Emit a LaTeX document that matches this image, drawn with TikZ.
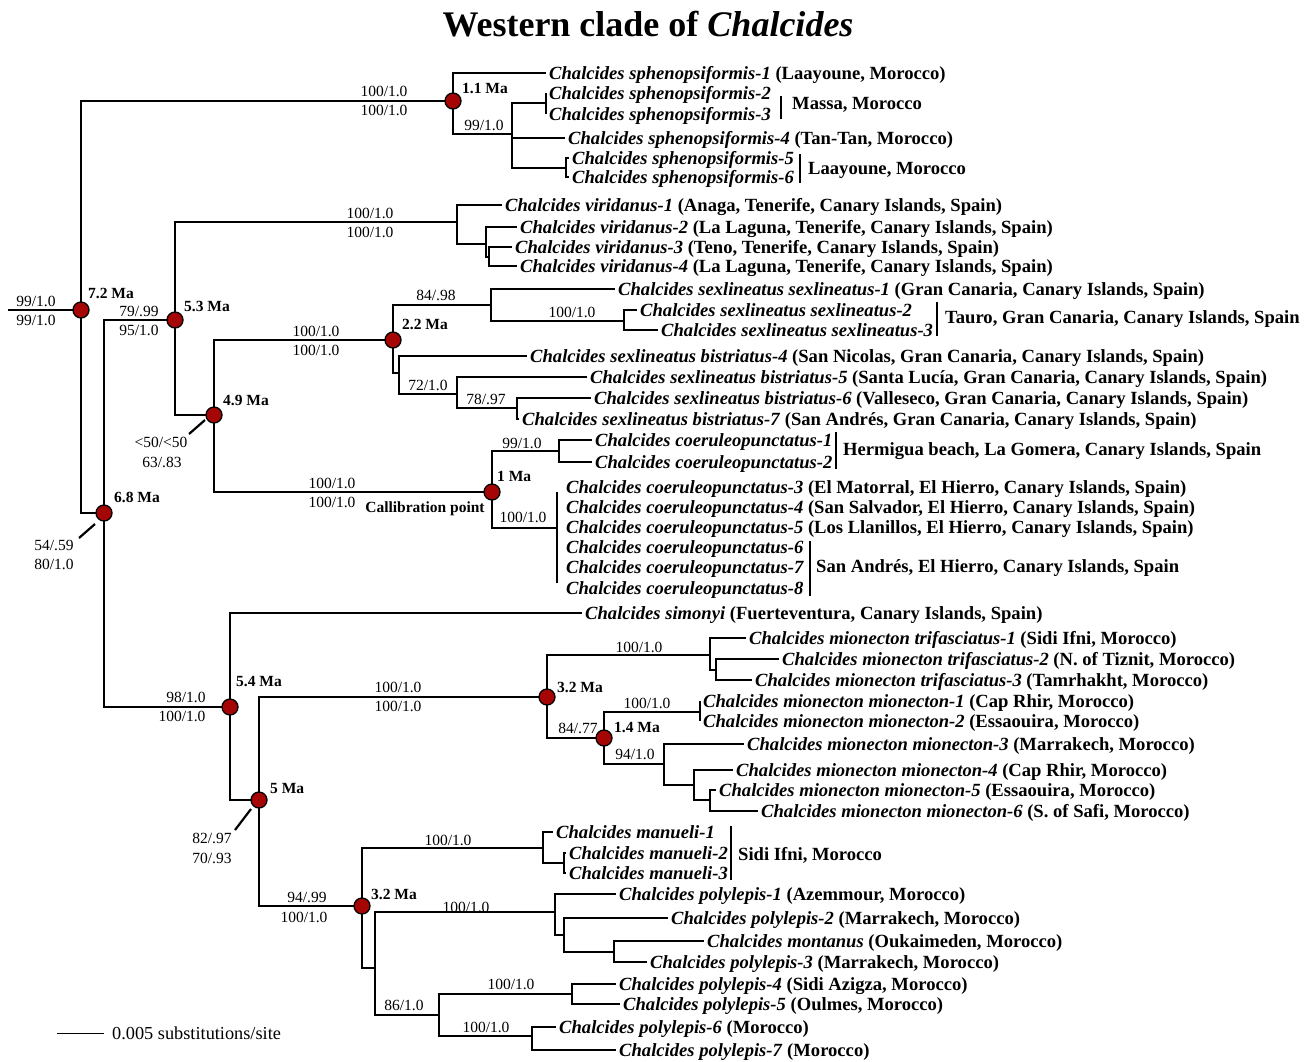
\documentclass[tikz,border=0pt]{standalone}
\usepackage{fontspec}
\setmainfont{Liberation Serif}
\definecolor{dotred}{RGB}{165,5,5}
\newcommand\spp[2]{\textit{#1}#2}
\begin{document}
\begin{tikzpicture}[x=1pt,y=-1pt,
  br/.style={line width=2.5pt},
  gbar/.style={line width=2pt},
  tickln/.style={line width=2.2pt},
  rdot/.style={circle,draw=black,fill=dotred,line width=1.3pt,minimum size=16pt,inner sep=0pt},
  leaf/.style={anchor=west,inner xsep=3pt,inner ysep=0pt,text height=13pt,text depth=0pt,font=\fontsize{18.6}{20}\selectfont\bfseries},
  grp/.style={anchor=west,inner sep=0pt,text height=13pt,text depth=0pt,font=\fontsize{18.6}{20}\selectfont\bfseries},
  bs/.style={inner sep=0pt,text height=10.5pt,text depth=0pt,font=\fontsize{15.5}{17}\selectfont},
  age/.style={anchor=west,inner sep=0pt,text height=10.5pt,text depth=0pt,font=\fontsize{15.5}{17}\selectfont\bfseries}]
\useasboundingbox[fill=white] (0,0) rectangle (1309,1061);
% title
\node[font=\fontsize{36}{40}\selectfont\bfseries] (title) at (648,24) {Western clade of \textit{Chalcides}};
% internal nodes
\coordinate (R0) at (8,310);
\coordinate (N72) at (81,310);
\coordinate (N11) at (453,101);
\coordinate (N99) at (512,134);
\coordinate (Nsp23) at (546,103);
\coordinate (Nsp56) at (566,168);
\coordinate (N68) at (104,513);
\coordinate (N53) at (175,320);
\coordinate (Nvir) at (457,222);
\coordinate (Nvir234) at (486,244);
\coordinate (Nvir34) at (489,257);
\coordinate (N49) at (214,415);
\coordinate (N22) at (393,340);
\coordinate (Nsexl) at (491,305);
\coordinate (Nsexl23) at (624,321);
\coordinate (Nbis) at (399,373);
\coordinate (N72b) at (457,394);
\coordinate (N78) at (517,408);
\coordinate (N1) at (492,492);
\coordinate (Ncoer12) at (559,451);
\coordinate (Ncoer3) at (557,528);
\coordinate (N54) at (230,707);
\coordinate (N5) at (259,800);
\coordinate (N32a) at (547,697);
\coordinate (Ntrif) at (710,655);
\coordinate (Ntrif23) at (716,670);
\coordinate (N14) at (604,738);
\coordinate (Nmion12) at (700,712);
\coordinate (Nmion36) at (664,764);
\coordinate (Nmion456) at (694,785);
\coordinate (Nmion56) at (710,800);
\coordinate (N32b) at (362,906);
\coordinate (Nman) at (543,848);
\coordinate (Nman23) at (564,863);
\coordinate (Npa) at (375,968);
\coordinate (Npoly1) at (555,912);
\coordinate (Npoly2) at (564,935);
\coordinate (Nmont) at (614,952);
\coordinate (N86) at (439,1015);
\coordinate (Npoly45) at (572,994);
\coordinate (Npoly67) at (532,1036);
% leaves
\node[leaf] (sp1) at (546,73) {\spp{Chalcides sphenopsiformis-1}{ (Laayoune, Morocco)}};
\node[leaf] (sp2) at (546,93) {\spp{Chalcides sphenopsiformis-2}{}};
\node[leaf] (sp3) at (546,114) {\spp{Chalcides sphenopsiformis-3}{}};
\node[leaf] (sp4) at (565,138) {\spp{Chalcides sphenopsiformis-4}{ (Tan-Tan, Morocco)}};
\node[leaf] (sp5) at (569,158) {\spp{Chalcides sphenopsiformis-5}{}};
\node[leaf] (sp6) at (569,177) {\spp{Chalcides sphenopsiformis-6}{}};
\node[leaf] (vi1) at (502,205) {\spp{Chalcides viridanus-1}{ (Anaga, Tenerife, Canary Islands, Spain)}};
\node[leaf] (vi2) at (517,227) {\spp{Chalcides viridanus-2}{ (La Laguna, Tenerife, Canary Islands, Spain)}};
\node[leaf] (vi3) at (512,247) {\spp{Chalcides viridanus-3}{ (Teno, Tenerife, Canary Islands, Spain)}};
\node[leaf] (vi4) at (517,266) {\spp{Chalcides viridanus-4}{ (La Laguna, Tenerife, Canary Islands, Spain)}};
\node[leaf] (sx1) at (615,289) {\spp{Chalcides sexlineatus sexlineatus-1}{ (Gran Canaria, Canary Islands, Spain)}};
\node[leaf] (sx2) at (637,310) {\spp{Chalcides sexlineatus sexlineatus-2}{}};
\node[leaf] (sx3) at (658,330) {\spp{Chalcides sexlineatus sexlineatus-3}{}};
\node[leaf] (bi4) at (527,356) {\spp{Chalcides sexlineatus bistriatus-4}{ (San Nicolas, Gran Canaria, Canary Islands, Spain)}};
\node[leaf] (bi5) at (587,377) {\spp{Chalcides sexlineatus bistriatus-5}{ (Santa Lucía, Gran Canaria, Canary Islands, Spain)}};
\node[leaf] (bi6) at (591,398) {\spp{Chalcides sexlineatus bistriatus-6}{ (Valleseco, Gran Canaria, Canary Islands, Spain)}};
\node[leaf] (bi7) at (519,419) {\spp{Chalcides sexlineatus bistriatus-7}{ (San Andrés, Gran Canaria, Canary Islands, Spain)}};
\node[leaf] (co1) at (592,440) {\spp{Chalcides coeruleopunctatus-1}{}};
\node[leaf] (co2) at (592,462) {\spp{Chalcides coeruleopunctatus-2}{}};
\node[leaf] (co3) at (563,487) {\spp{Chalcides coeruleopunctatus-3}{ (El Matorral, El Hierro, Canary Islands, Spain)}};
\node[leaf] (co4) at (563,507) {\spp{Chalcides coeruleopunctatus-4}{ (San Salvador, El Hierro, Canary Islands, Spain)}};
\node[leaf] (co5) at (563,527) {\spp{Chalcides coeruleopunctatus-5}{ (Los Llanillos, El Hierro, Canary Islands, Spain)}};
\node[leaf] (co6) at (563,547) {\spp{Chalcides coeruleopunctatus-6}{}};
\node[leaf] (co7) at (563,567) {\spp{Chalcides coeruleopunctatus-7}{}};
\node[leaf] (co8) at (563,588) {\spp{Chalcides coeruleopunctatus-8}{}};
\node[leaf] (si) at (582,613) {\spp{Chalcides simonyi}{ (Fuerteventura, Canary Islands, Spain)}};
\node[leaf] (tr1) at (746,638) {\spp{Chalcides mionecton trifasciatus-1}{ (Sidi Ifni, Morocco)}};
\node[leaf] (tr2) at (779,659) {\spp{Chalcides mionecton trifasciatus-2}{ (N. of Tiznit, Morocco)}};
\node[leaf] (tr3) at (752,680) {\spp{Chalcides mionecton trifasciatus-3}{ (Tamrhakht, Morocco)}};
\node[leaf] (mi1) at (700,701) {\spp{Chalcides mionecton mionecton-1}{ (Cap Rhir, Morocco)}};
\node[leaf] (mi2) at (700,721) {\spp{Chalcides mionecton mionecton-2}{ (Essaouira, Morocco)}};
\node[leaf] (mi3) at (744,744) {\spp{Chalcides mionecton mionecton-3}{ (Marrakech, Morocco)}};
\node[leaf] (mi4) at (733,770) {\spp{Chalcides mionecton mionecton-4}{ (Cap Rhir, Morocco)}};
\node[leaf] (mi5) at (716,790) {\spp{Chalcides mionecton mionecton-5}{ (Essaouira, Morocco)}};
\node[leaf] (mi6) at (758,811) {\spp{Chalcides mionecton mionecton-6}{ (S. of Safi, Morocco)}};
\node[leaf] (ma1) at (553,832) {\spp{Chalcides manueli-1}{}};
\node[leaf] (ma2) at (566,853) {\spp{Chalcides manueli-2}{}};
\node[leaf] (ma3) at (566,873) {\spp{Chalcides manueli-3}{}};
\node[leaf] (po1) at (616,894) {\spp{Chalcides polylepis-1}{ (Azemmour, Morocco)}};
\node[leaf] (po2) at (668,918) {\spp{Chalcides polylepis-2}{ (Marrakech, Morocco)}};
\node[leaf] (mo) at (704,941) {\spp{Chalcides montanus}{ (Oukaimeden, Morocco)}};
\node[leaf] (po3) at (647,962) {\spp{Chalcides polylepis-3}{ (Marrakech, Morocco)}};
\node[leaf] (po4) at (616,984) {\spp{Chalcides polylepis-4}{ (Sidi Azigza, Morocco)}};
\node[leaf] (po5) at (620,1004) {\spp{Chalcides polylepis-5}{ (Oulmes, Morocco)}};
\node[leaf] (po6) at (556,1027) {\spp{Chalcides polylepis-6}{ (Morocco)}};
\node[leaf] (po7) at (616,1050) {\spp{Chalcides polylepis-7}{ (Morocco)}};
% branches
\draw[br] (R0) -- (N72);
\draw[br] (N72) |- (N11);
\draw[br] (N72) |- (N68);
\draw[br] (N11) |- (sp1.west);
\draw[br] (N11) |- (N99);
\draw[br] (N99) |- (Nsp23);
\draw[br] (N99) |- (sp4.west);
\draw[br] (N99) |- (Nsp56);
\draw[br] (Nsp23) |- (sp2.west);
\draw[br] (Nsp23) |- (sp3.west);
\draw[br] (Nsp56) |- (sp5.west);
\draw[br] (Nsp56) |- (sp6.west);
\draw[br] (N68) |- (N53);
\draw[br] (N68) |- (N54);
\draw[br] (N53) |- (Nvir);
\draw[br] (N53) |- (N49);
\draw[br] (Nvir) |- (vi1.west);
\draw[br] (Nvir) |- (Nvir234);
\draw[br] (Nvir234) |- (vi2.west);
\draw[br] (Nvir234) |- (Nvir34);
\draw[br] (Nvir34) |- (vi3.west);
\draw[br] (Nvir34) |- (vi4.west);
\draw[br] (N49) |- (N22);
\draw[br] (N49) |- (N1);
\draw[br] (N22) |- (Nsexl);
\draw[br] (N22) |- (Nbis);
\draw[br] (Nsexl) |- (sx1.west);
\draw[br] (Nsexl) |- (Nsexl23);
\draw[br] (Nsexl23) |- (sx2.west);
\draw[br] (Nsexl23) |- (sx3.west);
\draw[br] (Nbis) |- (bi4.west);
\draw[br] (Nbis) |- (N72b);
\draw[br] (N72b) |- (bi5.west);
\draw[br] (N72b) |- (N78);
\draw[br] (N78) |- (bi6.west);
\draw[br] (N78) |- (bi7.west);
\draw[br] (N1) |- (Ncoer12);
\draw[br] (N1) |- (Ncoer3);
\draw[br] (Ncoer12) |- (co1.west);
\draw[br] (Ncoer12) |- (co2.west);
\draw[br] (Ncoer3) |- ([xshift=-6pt,yshift=-5pt]co3.west);
\draw[br] (Ncoer3) |- ([xshift=-6pt,yshift=5pt]co8.west);
\draw[br] (N54) |- (si.west);
\draw[br] (N54) |- (N5);
\draw[br] (N5) |- (N32a);
\draw[br] (N5) |- (N32b);
\draw[br] (N32a) |- (Ntrif);
\draw[br] (N32a) |- (N14);
\draw[br] (Ntrif) |- (tr1.west);
\draw[br] (Ntrif) |- (Ntrif23);
\draw[br] (Ntrif23) |- (tr2.west);
\draw[br] (Ntrif23) |- (tr3.west);
\draw[br] (N14) |- (Nmion12);
\draw[br] (N14) |- (Nmion36);
\draw[br] (Nmion12) |- (mi1.west);
\draw[br] (Nmion12) |- (mi2.west);
\draw[br] (Nmion36) |- (mi3.west);
\draw[br] (Nmion36) |- (Nmion456);
\draw[br] (Nmion456) |- (mi4.west);
\draw[br] (Nmion456) |- (Nmion56);
\draw[br] (Nmion56) |- (mi5.west);
\draw[br] (Nmion56) |- (mi6.west);
\draw[br] (N32b) |- (Nman);
\draw[br] (N32b) |- (Npa);
\draw[br] (Nman) |- (ma1.west);
\draw[br] (Nman) |- (Nman23);
\draw[br] (Nman23) |- (ma2.west);
\draw[br] (Nman23) |- (ma3.west);
\draw[br] (Npa) |- (Npoly1);
\draw[br] (Npa) |- (N86);
\draw[br] (Npoly1) |- (po1.west);
\draw[br] (Npoly1) |- (Npoly2);
\draw[br] (Npoly2) |- (po2.west);
\draw[br] (Npoly2) |- (Nmont);
\draw[br] (Nmont) |- (mo.west);
\draw[br] (Nmont) |- (po3.west);
\draw[br] (N86) |- (Npoly45);
\draw[br] (N86) |- (Npoly67);
\draw[br] (Npoly45) |- (po4.west);
\draw[br] (Npoly45) |- (po5.west);
\draw[br] (Npoly67) |- (po6.west);
\draw[br] (Npoly67) |- (po7.west);
% dated nodes
\foreach \n in {N72,N11,N68,N53,N49,N22,N1,N54,N5,N32a,N14,N32b}
  \node[rdot] (d\n) at (\n) {};
% group bars and labels
\draw[gbar] (781,96) -- (781,119);
\node[grp] (g1) at (792,103) {Massa, Morocco};
\draw[gbar] (800,154) -- (800,183);
\node[grp] (g2) at (808,168) {Laayoune, Morocco};
\draw[gbar] (937,302) -- (937,336);
\node[grp] (g3) at (945,317) {Tauro, Gran Canaria, Canary Islands, Spain};
\draw[gbar] (836,432) -- (836,469);
\node[grp] (g4) at (843,449) {Hermigua beach, La Gomera, Canary Islands, Spain};
\draw[gbar] (810,541) -- (810,596);
\node[grp] (g5) at (816,566) {San Andrés, El Hierro, Canary Islands, Spain};
\draw[gbar] (731,826) -- (731,880);
\node[grp] (g6) at (738,854) {Sidi Ifni, Morocco};
% ages
\node[age] (a72) at (88,293) {7.2 Ma};
\node[age] (a11) at (462,88) {1.1 Ma};
\node[age] (a53) at (184,306) {5.3 Ma};
\node[age] (a68) at (114,497) {6.8 Ma};
\node[age] (a49) at (223,400) {4.9 Ma};
\node[age] (a22) at (402,324) {2.2 Ma};
\node[age] (a1) at (497,476) {1 Ma};
\node[age] (a54) at (236,681) {5.4 Ma};
\node[age] (a5) at (270,788) {5 Ma};
\node[age] (a32a) at (557,687) {3.2 Ma};
\node[age] (a14) at (614,727) {1.4 Ma};
\node[age] (a32b) at (371,894) {3.2 Ma};
\node[age,anchor=center] (cal) at (425,507) {Callibration point};
% support values
\node[bs] (s1) at (36,301) {99/1.0};
\node[bs] (s2) at (36,320) {99/1.0};
\node[bs] (s3) at (384,91) {100/1.0};
\node[bs] (s4) at (384,110) {100/1.0};
\node[bs] (s5) at (484,125) {99/1.0};
\node[bs] (s6) at (370,213) {100/1.0};
\node[bs] (s7) at (370,232) {100/1.0};
\node[bs] (s8) at (139,311) {79/.99};
\node[bs] (s9) at (139,330) {95/1.0};
\node[bs] (s10) at (54,545) {54/.59};
\node[bs] (s11) at (54,564) {80/1.0};
\node[bs] (s12) at (161,442) {<50/<50};
\node[bs] (s13) at (162,462) {63/.83};
\node[bs] (s14) at (316,331) {100/1.0};
\node[bs] (s15) at (316,350) {100/1.0};
\node[bs] (s16) at (436,295) {84/.98};
\node[bs] (s17) at (572,312) {100/1.0};
\node[bs] (s18) at (428,385) {72/1.0};
\node[bs] (s19) at (486,399) {78/.97};
\node[bs] (s20) at (332,483) {100/1.0};
\node[bs] (s21) at (332,502) {100/1.0};
\node[bs] (s22) at (522,443) {99/1.0};
\node[bs] (s23) at (523,517) {100/1.0};
\node[bs] (s24) at (186,697) {98/1.0};
\node[bs] (s25) at (182,716) {100/1.0};
\node[bs] (s26) at (212,838) {82/.97};
\node[bs] (s27) at (212,858) {70/.93};
\node[bs] (s28) at (398,687) {100/1.0};
\node[bs] (s29) at (398,706) {100/1.0};
\node[bs] (s30) at (639,647) {100/1.0};
\node[bs] (s31) at (578,728) {84/.77};
\node[bs] (s32) at (647,703) {100/1.0};
\node[bs] (s33) at (635,754) {94/1.0};
\node[bs] (s34) at (307,897) {94/.99};
\node[bs] (s35) at (304,917) {100/1.0};
\node[bs] (s36) at (448,840) {100/1.0};
\node[bs] (s37) at (466,907) {100/1.0};
\node[bs] (s38) at (404,1005) {86/1.0};
\node[bs] (s39) at (511,984) {100/1.0};
\node[bs] (s40) at (486,1027) {100/1.0};
% pointer ticks
\coordinate (k1a) at (79,538); \coordinate (k1b) at (95,524);
\draw[tickln] (k1a) -- (k1b);
\coordinate (k2a) at (189,434); \coordinate (k2b) at (205,420);
\draw[tickln] (k2a) -- (k2b);
\coordinate (k3a) at (235,830); \coordinate (k3b) at (251,809);
\draw[tickln] (k3a) -- (k3b);
% scale bar
\coordinate (sb1) at (57,1033); \coordinate (sb2) at (104,1033);
\draw[line width=1pt] (sb1) -- (sb2);
\node[anchor=west,inner sep=0pt,text height=12pt,text depth=0pt,font=\fontsize{18.3}{20}\selectfont] (sbt) at (112,1033) {0.005 substitutions/site};
\end{tikzpicture}
\end{document}
